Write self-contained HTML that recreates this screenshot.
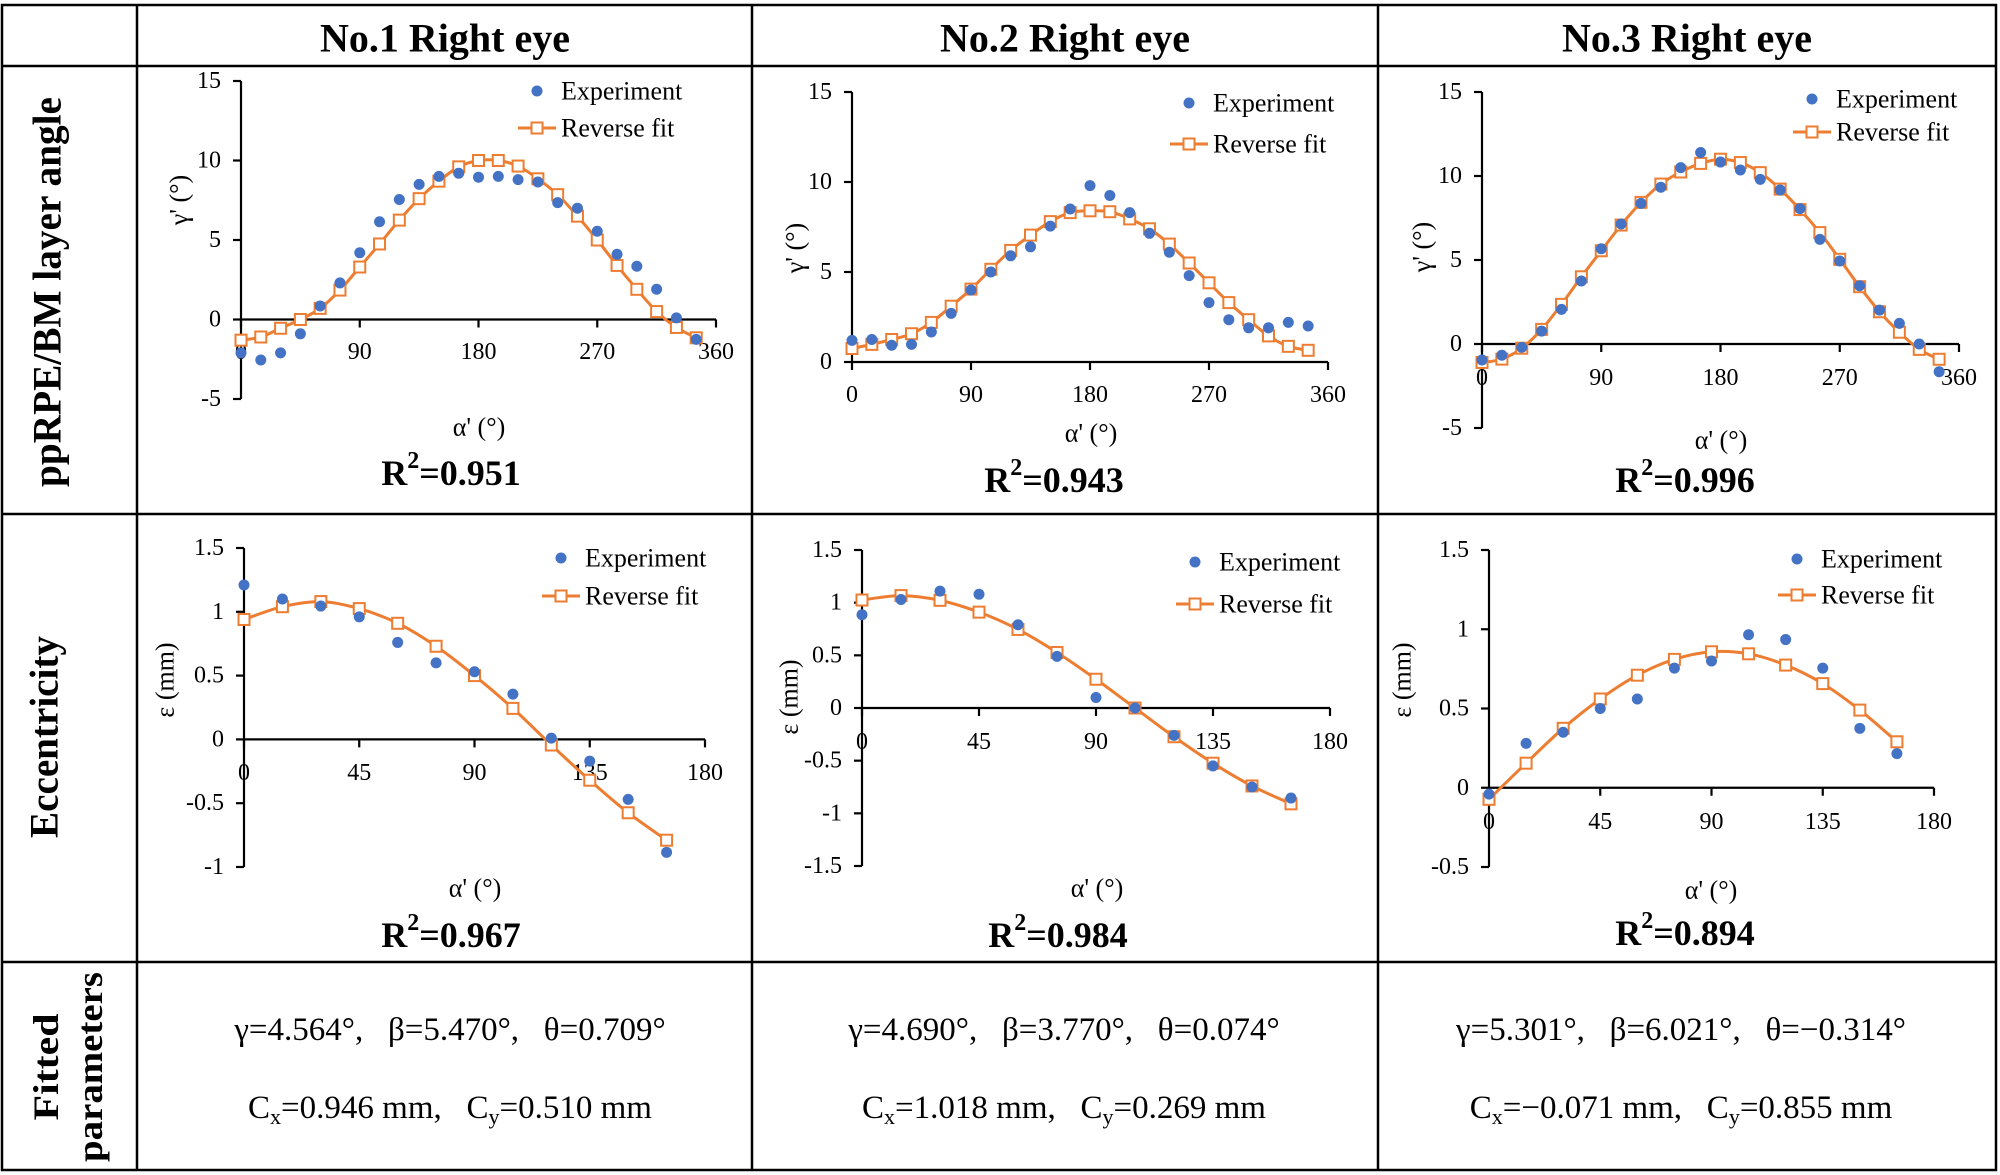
<!DOCTYPE html>
<html><head><meta charset="utf-8"><style>
html,body{margin:0;padding:0;background:#fff;}
svg{display:block;}
text{font-family:"Liberation Serif",serif;fill:#000;}
.b{font-family:"Liberation Serif",serif;font-weight:bold;}
</style></head><body>
<svg id="fig" width="2000" height="1175" viewBox="0 0 2000 1175" xmlns="http://www.w3.org/2000/svg">
<rect x="0" y="0" width="2000" height="1175" fill="#fff"/>
<g id="grid" stroke="#000" stroke-width="2.5" fill="none">
<rect x="2" y="5" width="1994" height="1165"/>
<line x1="137" y1="5" x2="137" y2="1170"/>
<line x1="752" y1="5" x2="752" y2="1170"/>
<line x1="1378" y1="5" x2="1378" y2="1170"/>
<line x1="2" y1="66" x2="1996" y2="66"/>
<line x1="2" y1="514" x2="1996" y2="514"/>
<line x1="2" y1="962" x2="1996" y2="962"/>
</g>
<text x="445" y="38" font-size="40" font-weight="bold" text-anchor="middle" dominant-baseline="central">No.1 Right eye</text>
<text x="1065" y="38" font-size="40" font-weight="bold" text-anchor="middle" dominant-baseline="central">No.2 Right eye</text>
<text x="1687" y="38" font-size="40" font-weight="bold" text-anchor="middle" dominant-baseline="central">No.3 Right eye</text>
<text class="b" transform="translate(47,292) rotate(-90)" font-size="40" text-anchor="middle" dominant-baseline="central" textLength="390" lengthAdjust="spacingAndGlyphs">ppRPE/BM layer angle</text>
<text class="b" transform="translate(44,737) rotate(-90)" font-size="40" text-anchor="middle" dominant-baseline="central" textLength="202" lengthAdjust="spacingAndGlyphs">Eccentricity</text>
<text class="b" transform="translate(46,1067) rotate(-90)" font-size="36" text-anchor="middle" dominant-baseline="central" textLength="107" lengthAdjust="spacingAndGlyphs">Fitted</text>
<text class="b" transform="translate(90,1067) rotate(-90)" font-size="36" text-anchor="middle" dominant-baseline="central" textLength="190" lengthAdjust="spacingAndGlyphs">parameters</text>

<text x="450" y="1030" font-size="33" text-anchor="middle" dominant-baseline="central" xml:space="preserve">γ=4.564°,   β=5.470°,   θ=0.709°</text>
<text x="450" y="1108" font-size="33" text-anchor="middle" dominant-baseline="central" xml:space="preserve">C<tspan font-size="22" dy="8">x</tspan><tspan dy="-8">=0.946 mm,   C</tspan><tspan font-size="22" dy="8">y</tspan><tspan dy="-8">=0.510 mm</tspan></text>
<text x="1064" y="1030" font-size="33" text-anchor="middle" dominant-baseline="central" xml:space="preserve">γ=4.690°,   β=3.770°,   θ=0.074°</text>
<text x="1064" y="1108" font-size="33" text-anchor="middle" dominant-baseline="central" xml:space="preserve">C<tspan font-size="22" dy="8">x</tspan><tspan dy="-8">=1.018 mm,   C</tspan><tspan font-size="22" dy="8">y</tspan><tspan dy="-8">=0.269 mm</tspan></text>
<text x="1681" y="1030" font-size="33" text-anchor="middle" dominant-baseline="central" xml:space="preserve">γ=5.301°,   β=6.021°,   θ=−0.314°</text>
<text x="1681" y="1108" font-size="33" text-anchor="middle" dominant-baseline="central" xml:space="preserve">C<tspan font-size="22" dy="8">x</tspan><tspan dy="-8">=−0.071 mm,   C</tspan><tspan font-size="22" dy="8">y</tspan><tspan dy="-8">=0.855 mm</tspan></text>
<g id="charts"></g>
</svg>
<script>
const anglesFull = [0,15,30,45,60,75,90,105,120,135,150,165,180,195,210,225,240,255,270,285,300,315,330,345];
const anglesHalf = [0,15,30,45,60,75,90,105,120,135,150,165];
const c1Exp = [-2.1,-2.55,-2.1,-0.9,0.85,2.3,4.2,6.15,7.55,8.5,9.0,9.2,8.95,9.0,8.8,8.65,7.35,7.0,5.55,4.1,3.35,1.9,0.1,-1.25];
const c1Fit = [-1.3,-1.1,-0.55,0,0.7,1.85,3.3,4.75,6.25,7.6,8.7,9.6,10.0,10.0,9.65,8.85,7.85,6.5,5.0,3.4,1.9,0.5,-0.5,-1.15];
const c2Exp = [1.2,1.25,0.93,0.98,1.67,2.7,4.0,5.0,5.9,6.4,7.55,8.5,9.8,9.25,8.3,7.15,6.1,4.8,3.3,2.35,1.9,1.9,2.2,2.0];
const c2Fit = [0.75,0.98,1.25,1.57,2.2,3.1,4.05,5.15,6.2,7.05,7.8,8.3,8.4,8.35,7.95,7.4,6.55,5.5,4.4,3.3,2.35,1.45,0.87,0.65];
const c3Exp = [-0.95,-0.67,-0.2,0.77,2.06,3.75,5.67,7.14,8.37,9.33,10.5,11.4,10.83,10.36,9.8,9.17,8.06,6.23,4.94,3.47,2.02,1.23,0,-1.65];
const c3Fit = [-1.1,-0.9,-0.25,0.87,2.36,4.0,5.55,7.08,8.43,9.52,10.24,10.75,11.0,10.8,10.2,9.22,8.0,6.63,5.04,3.41,1.92,0.7,-0.32,-0.91];
const c4Exp = [1.21,1.10,1.045,0.96,0.76,0.60,0.53,0.355,0.01,-0.17,-0.47,-0.885];
const c4Fit = [0.94,1.04,1.08,1.025,0.91,0.73,0.50,0.243,-0.044,-0.32,-0.575,-0.79];
const c5Exp = [0.885,1.03,1.11,1.08,0.79,0.49,0.10,0.0,-0.26,-0.55,-0.75,-0.855];
const c5Fit = [1.025,1.067,1.022,0.91,0.746,0.527,0.273,0,-0.273,-0.524,-0.74,-0.91];
const c6Exp = [-0.04,0.28,0.35,0.5,0.56,0.755,0.80,0.965,0.935,0.755,0.375,0.215];
const c6Fit = [-0.073,0.155,0.375,0.56,0.71,0.81,0.858,0.845,0.774,0.657,0.49,0.29];
const xTicksFull = [0,90,180,270,360];
const xTicksHalf = [0,45,90,135,180];
const yTicksAngle1 = [15,10,5,0,-5];
const yTicksAngle2 = [15,10,5,0];
const yTicksEcc1 = [1.5,1,0.5,0,-0.5,-1];
const yTicksEcc2 = [1.5,1,0.5,0,-0.5,-1,-1.5];
const yTicksEcc3 = [1.5,1,0.5,0,-0.5];
const r2Labels = ["0.951","0.943","0.996","0.967","0.984","0.894"];

const NS = "http://www.w3.org/2000/svg";
const root = document.getElementById('charts');
function mk(tag, attrs, parent){
  const e = document.createElementNS(NS, tag);
  for (const k in attrs) e.setAttribute(k, attrs[k]);
  (parent||root).appendChild(e);
  return e;
}
const BLUE = "#4472C4", ORANGE = "#ED7D31";

function smoothPath(pts){
  let d = "M" + pts[0][0] + "," + pts[0][1];
  for (let i=0;i<pts.length-1;i++){
    const p0 = pts[Math.max(0,i-1)], p1 = pts[i], p2 = pts[i+1], p3 = pts[Math.min(pts.length-1,i+2)];
    const t = 1/6;
    const c1x = p1[0] + (p2[0]-p0[0])*t, c1y = p1[1] + (p2[1]-p0[1])*t;
    const c2x = p2[0] - (p3[0]-p1[0])*t, c2y = p2[1] - (p3[1]-p1[1])*t;
    d += " C" + c1x + "," + c1y + " " + c2x + "," + c2y + " " + p2[0] + "," + p2[1];
  }
  return d;
}

function chart(id, cfg, xs, exp, fit, xTicks, yTicks, r2, yTitle){
  const g = mk('g', {});
  
  
  const X = v => cfg.px0 + (v - xTicks[0]) / (xTicks[xTicks.length-1] - xTicks[0]) * (cfg.px1 - cfg.px0);
  const yMax = yTicks[0], yMin = yTicks[yTicks.length-1];
  const Y = v => cfg.py0 + (yMax - v) / (yMax - yMin) * (cfg.py1 - cfg.py0);
  const ax = mk('g', {stroke:"#000","stroke-width":2.2,fill:"none"}, g);
  
  
  mk('line', {x1:X(xTicks[0]), y1:Y(yMax), x2:X(xTicks[0]), y2:Y(yMin)}, ax);
  mk('line', {x1:X(xTicks[0]), y1:Y(0), x2:X(xTicks[xTicks.length-1]), y2:Y(0)}, ax);
  yTicks.forEach(v => {
    mk('line', {x1:X(xTicks[0])-8, y1:Y(v), x2:X(xTicks[0]), y2:Y(v)}, ax);
    const t = mk('text', {x:X(xTicks[0])-20, y:Y(v), "font-size":24, "text-anchor":"end", "dominant-baseline":"central"}, g);
    
    
    t.textContent = String(v);
  });
  xTicks.forEach(v => {
    mk('line', {x1:X(v), y1:Y(0), x2:X(v), y2:Y(0)+8}, ax);
    const t = mk('text', {x:X(v), y:cfg.xlabY, "font-size":24, "text-anchor":"middle", "dominant-baseline":"central"}, g);
    
    
    t.textContent = String(v);
  });
  const pts = xs.map((a,i)=>[X(a), Y(fit[i])]);
  const line = mk('path', {d:smoothPath(pts), stroke:ORANGE, "stroke-width":3, fill:"none"}, g);
  
  
  pts.forEach(p => {
    const s = mk('rect', {x:p[0]-5.5, y:p[1]-5.5, width:11, height:11, fill:"#fff", stroke:ORANGE, "stroke-width":2}, g);
    
    
  });
  xs.forEach((a,i) => {
    const c = mk('circle', {cx:X(a), cy:Y(exp[i]), r:5.5, fill:BLUE}, g);
    
    
  });
  const lg = mk('g', {}, g);
  
  
  const c = mk('circle', {cx:cfg.legX, cy:cfg.legY1, r:5.5, fill:BLUE}, lg);
  
  
  const t1 = mk('text', {x:cfg.legX+24, y:cfg.legY1, "font-size":26, "dominant-baseline":"central"}, lg);
  
  
  t1.textContent = "Experiment";
  const l = mk('line', {x1:cfg.legX-19, y1:cfg.legY2, x2:cfg.legX+19, y2:cfg.legY2, stroke:ORANGE, "stroke-width":3}, lg);
  
  
  const s = mk('rect', {x:cfg.legX-5.5, y:cfg.legY2-5.5, width:11, height:11, fill:"#fff", stroke:ORANGE, "stroke-width":2}, lg);
  
  
  const t2 = mk('text', {x:cfg.legX+24, y:cfg.legY2, "font-size":26, "dominant-baseline":"central"}, lg);
  
  
  t2.textContent = "Reverse fit";
  const yt = mk('text', {transform:"translate("+cfg.ytX+","+cfg.ytY+") rotate(-90)", "font-size":26, "text-anchor":"middle", "dominant-baseline":"central"}, g);
  
  
  yt.textContent = yTitle;
  const xt = mk('text', {x:cfg.xtX, y:cfg.xtY, "font-size":26, "text-anchor":"middle", "dominant-baseline":"central"}, g);
  
  
  xt.textContent = "α' (°)";
  const rt = mk('text', {x:cfg.r2X, y:cfg.r2Y, "font-size":36, "font-weight":"bold", "text-anchor":"middle", "dominant-baseline":"central"}, g);
  
  
  rt.innerHTML = 'R<tspan font-size="24" dy="-12">2</tspan><tspan dy="12">=' + r2 + '</tspan>';
}

chart('chart-no1-angle', {px0:241,px1:716,py0:81,py1:399,xlabY:352,legX:537,legY1:91,legY2:128,ytX:179,ytY:200,xtX:479,xtY:427,r2X:451,r2Y:473},
  anglesFull, c1Exp, c1Fit, xTicksFull, yTicksAngle1, r2Labels[0], "γ' (°)");
chart('chart-no2-angle', {px0:852,px1:1328,py0:92,py1:362,xlabY:395,legX:1189,legY1:103,legY2:144,ytX:795,ytY:248,xtX:1091,xtY:433,r2X:1054,r2Y:480},
  anglesFull, c2Exp, c2Fit, xTicksFull, yTicksAngle2, r2Labels[1], "γ' (°)");
chart('chart-no3-angle', {px0:1482,px1:1959,py0:92,py1:428,xlabY:378,legX:1812,legY1:99,legY2:132,ytX:1422,ytY:247,xtX:1721,xtY:440,r2X:1685,r2Y:480},
  anglesFull, c3Exp, c3Fit, xTicksFull, yTicksAngle1, r2Labels[2], "γ' (°)");
chart('chart-no1-ecc', {px0:244,px1:705,py0:548,py1:867,xlabY:773,legX:561,legY1:558,legY2:596,ytX:165,ytY:680,xtX:475,xtY:888,r2X:451,r2Y:935},
  anglesHalf, c4Exp, c4Fit, xTicksHalf, yTicksEcc1, r2Labels[3], "ε (mm)");
chart('chart-no2-ecc', {px0:862,px1:1330,py0:550,py1:866,xlabY:742,legX:1195,legY1:562,legY2:604,ytX:789,ytY:697,xtX:1097,xtY:888,r2X:1058,r2Y:935},
  anglesHalf, c5Exp, c5Fit, xTicksHalf, yTicksEcc2, r2Labels[4], "ε (mm)");
chart('chart-no3-ecc', {px0:1489,px1:1934,py0:550,py1:867,xlabY:822,legX:1797,legY1:559,legY2:595,ytX:1402,ytY:680,xtX:1711,xtY:890,r2X:1685,r2Y:933},
  anglesHalf, c6Exp, c6Fit, xTicksHalf, yTicksEcc3, r2Labels[5], "ε (mm)");
</script>
</body></html>
